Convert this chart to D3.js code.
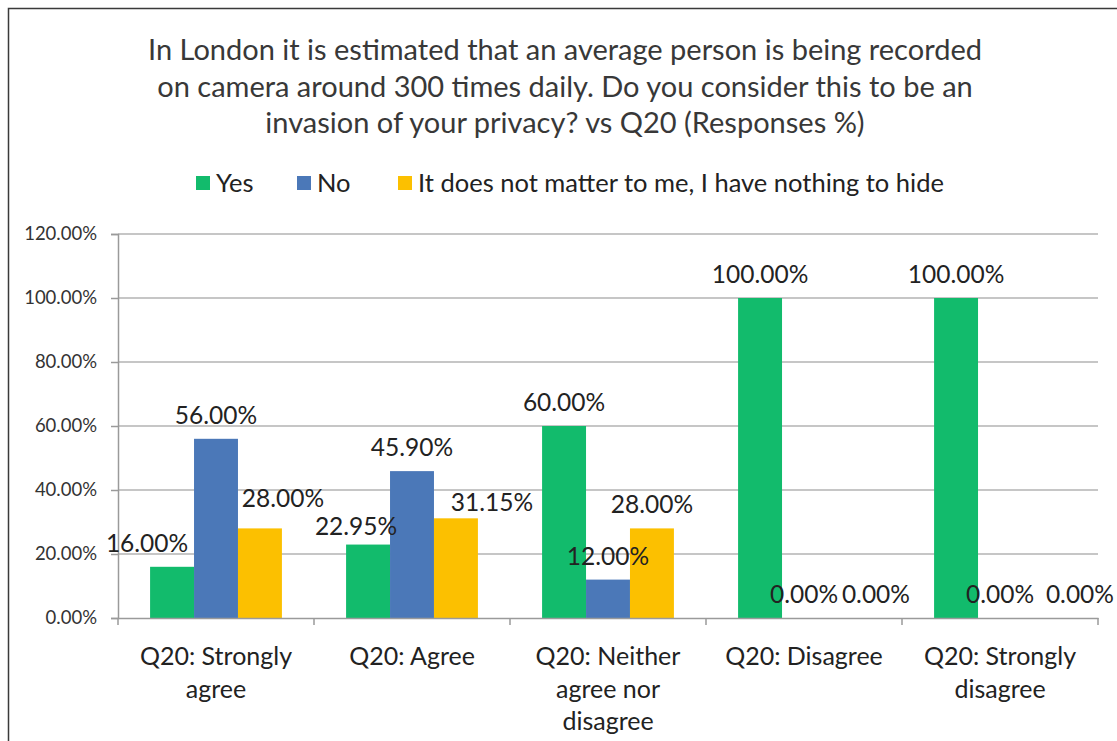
<!DOCTYPE html>
<html>
<head>
<meta charset="utf-8">
<script src="https://cdn.jsdelivr.net/npm/d3@7"></script>
<style>
  html, body { margin: 0; padding: 0; background: #fff; }
  svg { display: block; font-family: Lato, "Open Sans", sans-serif; }
</style>
</head>
<body>
<svg id="chart" width="1117" height="741"></svg>
<script>
// Survey responses (%) by answer to Q20
const categories = [
  ["Q20: Strongly", "agree"],
  ["Q20: Agree"],
  ["Q20: Neither", "agree nor", "disagree"],
  ["Q20: Disagree"],
  ["Q20: Strongly", "disagree"]
];
const seriesNames = ["Yes", "No", "It does not matter to me, I have nothing to hide"];
const yesValues = [16.00, 22.95, 60.00, 100.00, 100.00];
const noValues = [56.00, 45.90, 12.00, 0.00, 0.00];
const indifferentValues = [28.00, 31.15, 28.00, 0.00, 0.00];
const yTicks = [0, 20, 40, 60, 80, 100, 120];
const titleLines = [
  "In London it is estimated that an average person is being recorded",
  "on camera around 300 times daily. Do you consider this to be an",
  "invasion of your privacy? vs Q20 (Responses %)"
];

// Layout
const colors = ["#12bb6c", "#4b78b8", "#fcc000"];
// label shifts [dx, dy] used where labels would otherwise collide
const labelShift = [
  [[-25, 0], [0, 0], [23, -6]],
  [[-12, 5], [0, 0], [36, 8]],
  [[0, 0], [0, 0], [0, 0]],
  [[0, 0], [0, 0], [28, 0]],
  [[0, 0], [0, 0], [36, 0]]
];

const svg = d3.select("#chart");
const plot = { left: 118, right: 1098, top: 234, bottom: 618 };

// outer frame
svg.append("path")
  .attr("d", "M8.5,741 V8.5 H1117")
  .attr("fill", "none").attr("stroke", "#3a3a3a").attr("stroke-width", 1.5);

const catKeys = categories.map((c, i) => i);
const x0 = d3.scaleBand().domain(catKeys).range([plot.left, plot.right]).paddingInner(0).paddingOuter(0);
const x1 = d3.scaleBand().domain([0, 1, 2]).range([0, x0.bandwidth()]).paddingInner(0).paddingOuter(0.73);
const y = d3.scaleLinear().domain([0, 120]).range([plot.bottom, plot.top]);

const series = [yesValues, noValues, indifferentValues];

// title
svg.append("g").selectAll("text").data(titleLines).join("text")
  .attr("x", 565).attr("y", (d, i) => 60 + i * 36.5)
  .attr("text-anchor", "middle")
  .attr("font-size", 29).attr("fill", "#383838")
  .text(d => d);

// legend
const legendX = [196, 297, 398];
const lg = svg.append("g");
seriesNames.forEach((name, i) => {
  lg.append("rect").attr("x", legendX[i]).attr("y", 176)
    .attr("width", 14).attr("height", 14).attr("fill", colors[i]);
  lg.append("text").attr("x", legendX[i] + 20).attr("y", 192)
    .attr("font-size", 25.5).attr("fill", "#222").text(name);
});

// gridlines
svg.append("g").selectAll("line").data(yTicks.filter(t => t > 0)).join("line")
  .attr("x1", plot.left).attr("x2", plot.right)
  .attr("y1", d => y(d)).attr("y2", d => y(d))
  .attr("stroke", "#b3b3b3").attr("stroke-width", 1.5);

// y axis
const yAxis = d3.axisLeft(y).tickValues(yTicks).tickSize(7).tickPadding(14)
  .tickFormat(d => d.toFixed(2) + "%");
const yg = svg.append("g").attr("transform", `translate(${plot.left},0)`).call(yAxis);
yg.select(".domain").attr("stroke", "#9a9a9a").attr("stroke-width", 1.5);
yg.selectAll(".tick line").attr("stroke", "#9a9a9a").attr("stroke-width", 1.5);
yg.selectAll(".tick text").attr("font-family", "Lato, sans-serif").attr("font-size", 18.5).attr("fill", "#333");

// bars
const groups = svg.append("g").selectAll("g").data(catKeys).join("g")
  .attr("transform", d => `translate(${x0(d)},0)`);
groups.selectAll("rect").data(ci => series.map((s, si) => ({ ci, si, v: s[ci] }))).join("rect")
  .attr("x", d => x1(d.si)).attr("width", x1.bandwidth())
  .attr("y", d => y(d.v)).attr("height", d => y(0) - y(d.v))
  .attr("fill", d => colors[d.si]);

// x axis
const xAxis = d3.axisBottom(x0).tickSize(0).tickFormat("");
const xg = svg.append("g").attr("transform", `translate(0,${plot.bottom})`).call(xAxis);
xg.select(".domain").attr("stroke", "#9a9a9a").attr("stroke-width", 1.5);
xg.selectAll(".tick").remove();
svg.append("g").selectAll("line").data(d3.range(categories.length + 1)).join("line")
  .attr("x1", i => plot.left + i * x0.step()).attr("x2", i => plot.left + i * x0.step())
  .attr("y1", plot.bottom).attr("y2", plot.bottom + 7)
  .attr("stroke", "#9a9a9a").attr("stroke-width", 1.5);

// category labels
const cl = svg.append("g").selectAll("text").data(catKeys).join("text")
  .attr("text-anchor", "middle").attr("font-size", 25).attr("fill", "#222");
cl.selectAll("tspan").data(ci => categories[ci].map(line => ({ ci, line }))).join("tspan")
  .attr("x", d => x0(d.ci) + x0.bandwidth() / 2)
  .attr("y", (d, i) => 665 + i * 32.5)
  .text(d => d.line);

// data labels
const labels = [];
series.forEach((s, si) => s.forEach((v, ci) => labels.push({ ci, si, v })));
svg.append("g").selectAll("text").data(labels).join("text")
  .attr("text-anchor", "middle").attr("font-size", 24.5).attr("fill", "#222")
  .attr("x", d => x0(d.ci) + x1(d.si) + x1.bandwidth() / 2 + labelShift[d.ci][d.si][0])
  .attr("y", d => y(d.v) - 15 + labelShift[d.ci][d.si][1])
  .text(d => d.v.toFixed(2) + "%");
</script>
</body>
</html>
